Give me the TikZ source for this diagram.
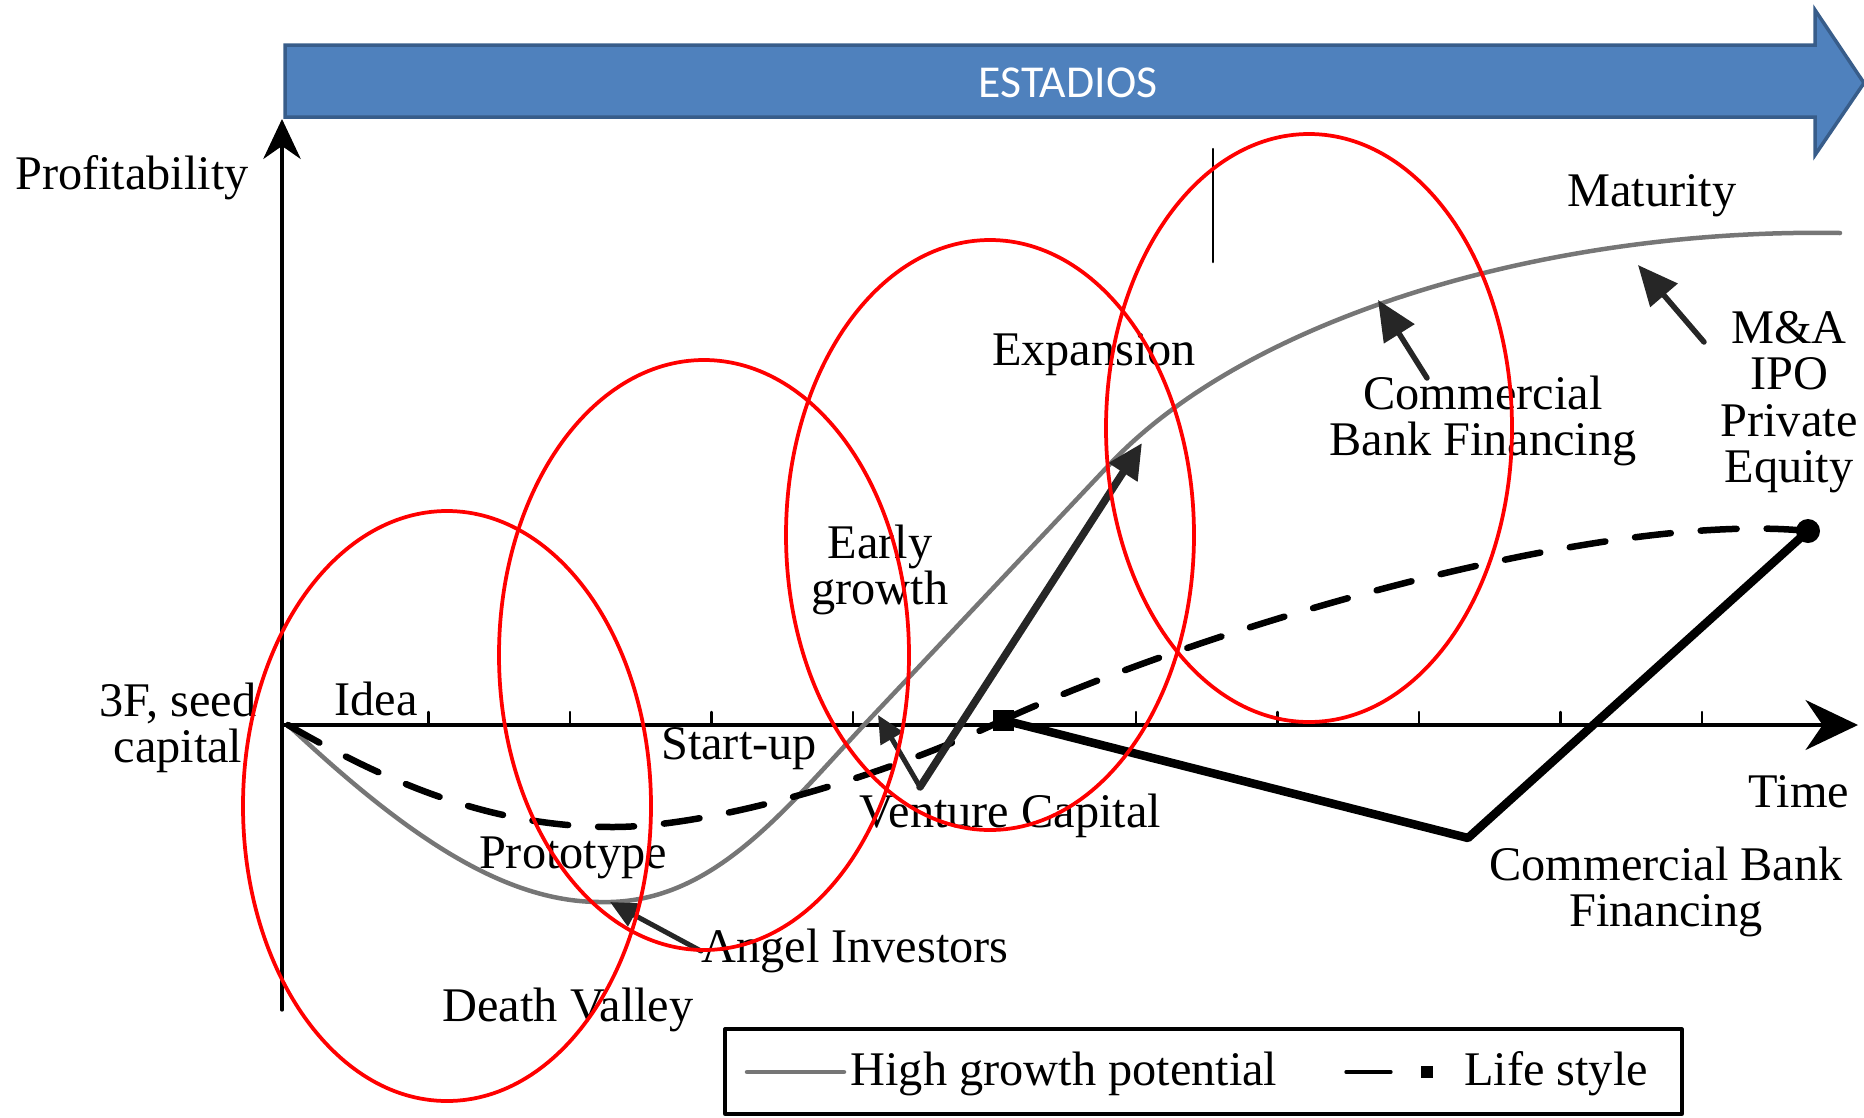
\documentclass[tikz,border=0pt]{standalone}
\usepackage{fontspec}
\setmainfont{Liberation Serif}
\newfontfamily\calibri{Carlito}
\usepackage{xcolor}
\usetikzlibrary{positioning,calc,arrows.meta}

\definecolor{stageblue}{RGB}{79,129,189}
\definecolor{stageedge}{RGB}{56,93,138}
\definecolor{curvegray}{RGB}{118,118,118}

\begin{document}
\begin{tikzpicture}[
  x=0.02cm,y=-0.02cm,
  line cap=round,line join=round,
  lbl/.style={font=\fontsize{27.5}{26.5}\selectfont, inner sep=0pt, align=center},
  axisline/.style={black, line width=0.065cm},
  growth/.style={curvegray, line width=0.09cm},
  lifestyle/.style={black, line width=0.13cm, dash pattern=on 0.72cm off 0.6cm},
  fundline/.style={black, line width=0.17cm},
  pointer/.style={black!85, line width=0.11cm, -{Triangle[length=0.8cm, width=0.7cm]}},
  vcpointer/.style={black!85, line width=0.15cm, -{Triangle[length=0.7cm, width=0.65cm]}},
  smallpointer/.style={black!85, line width=0.1cm, -{Triangle[length=0.55cm, width=0.5cm]}},
  stagering/.style={red, line width=0.075cm}
  ]
  % ---- parameters
  \def\xO{287}
  \def\yO{725}
  \def\tick{141.5}

  \useasboundingbox (0,0) rectangle (1864,1117);

  % stages banner
  \draw[stageedge, fill=stageblue, line width=0.07cm, line join=miter]
    (285,45) -- (1815,45) -- (1815,10) -- (1864,83) -- (1815,155) -- (1815,117) -- (285,117) -- cycle;
  \node[font=\calibri\fontsize{26}{28}\selectfont, text=white] (stages) at (1068,83) {ESTADIOS};

  % axes
  \coordinate (O) at (\xO,\yO);
  \coordinate (yEnd) at (282,119);
  \coordinate (xEnd) at (1858,\yO);
  \draw[axisline, -{Stealth[length=0.8cm, width=0.75cm]}] (282,1010) -- (yEnd);
  \draw[axisline, -{Stealth[length=1.05cm, width=1cm]}] (282,\yO) -- (xEnd);

  % ticks
  \foreach \i in {1,...,10}{
    \draw[black, line width=0.05cm] ({\xO+\i*\tick}, \yO) -- ({\xO+\i*\tick}, \yO-13);
  }
  \draw[black, line width=0.05cm] (1213,149) -- (1213,262);

  % high growth potential
  \coordinate (valley) at (600,902);
  \coordinate (cross) at (864,725);
  \coordinate (bend) at (1110,464);
  \draw[growth] (288,725) .. controls (400,830) and (500,902) .. (valley)
    .. controls (710,905) and (780,815) .. (cross) -- (bend)
    .. controls (1250,316) and (1550,228) .. (1840,233);

  % life style
  \node[fill=black, minimum size=0.42cm, inner sep=0pt] (vcSq) at (1003,720) {};
  \node[circle, fill=black, minimum size=0.48cm, inner sep=0pt] (peDot) at (1808,531) {};
  \draw[lifestyle] (288,725) .. controls (400,790) and (500,827) .. (613,827)
    .. controls (720,827) and (900,770) .. (vcSq.center);
  \draw[lifestyle] (vcSq.center) .. controls (1200,630) and (1600,510) .. (peDot.center);

  % funding path
  \coordinate (bankLow) at (1468,838);
  \draw[fundline] (vcSq.center) -- (bankLow) -- (peDot.center);

  % labels
  \node[lbl] (profit) at (132,178) {Profitability};
  \node[lbl] (seed) at (178,728) {3F, seed\\capital};
  \node[lbl] (idea) at (376,699) {Idea};
  \node[lbl] (startup) at (739,749) {Start-up};
  \node[lbl] (proto) at (573,858) {Prototype};
  \node[lbl] (death) at (568,1010) {Death Valley};
  \node[lbl, anchor=west] (angel) at (701,951) {Angel Investors};
  \node[lbl] (venture) at (1010,816) {Venture Capital};
  \node[lbl] (early) at (880,570) {Early\\growth};
  \node[lbl] (expand) at (1094,355) {Expansion};
  \node[lbl] (mature) at (1652,196) {Maturity};
  \node[lbl] (bankUp) at (1483,421) {Commercial\\Bank Financing};
  \node[lbl] (exit) at (1789,402) {M\&A\\IPO\\Private\\Equity};
  \node[lbl] (time) at (1799,792) {Time};
  \node[lbl] (bankDown) at (1666,892) {Commercial Bank\\Financing};

  % arrows to the curve
  \coordinate (angelTip) at (610,902);
  \draw[smallpointer] (angel.west) -- (angelTip);
  \coordinate (vcBase) at (920,787);
  \coordinate (vcHit) at (878,715);
  \coordinate (vcTip) at (1142,443);
  \draw[smallpointer] (vcBase) -- (vcHit);
  \draw[vcpointer] (vcBase) -- (vcTip);
  \coordinate (bankTip) at (1378,300);
  \draw[pointer] (1427,378) -- (bankTip);
  \coordinate (exitTip) at (1638,265);
  \draw[pointer] (1704,342) -- (exitTip);

  % legend
  \draw[black, line width=0.065cm] (725,1029) rectangle (1682,1114);
  \draw[growth] (747,1072) -- (844,1072);
  \node[lbl] (legGrowth) at (1064,1074) {High growth potential};
  \draw[black, line width=0.065cm] (1346,1072) -- (1391,1072);
  \node[fill=black, minimum size=0.25cm, inner sep=0pt] (legSq) at (1427,1072) {};
  \node[lbl] (legLife) at (1556,1074) {Life style};

  % stage rings
  \draw[stagering] (447,806) ellipse [x radius=204, y radius=295];
  \draw[stagering] (704,655) ellipse [x radius=205, y radius=295];
  \draw[stagering] (990,535) ellipse [x radius=204, y radius=295];
  \draw[stagering] (1309,428) ellipse [x radius=203, y radius=294];
\end{tikzpicture}
\end{document}
